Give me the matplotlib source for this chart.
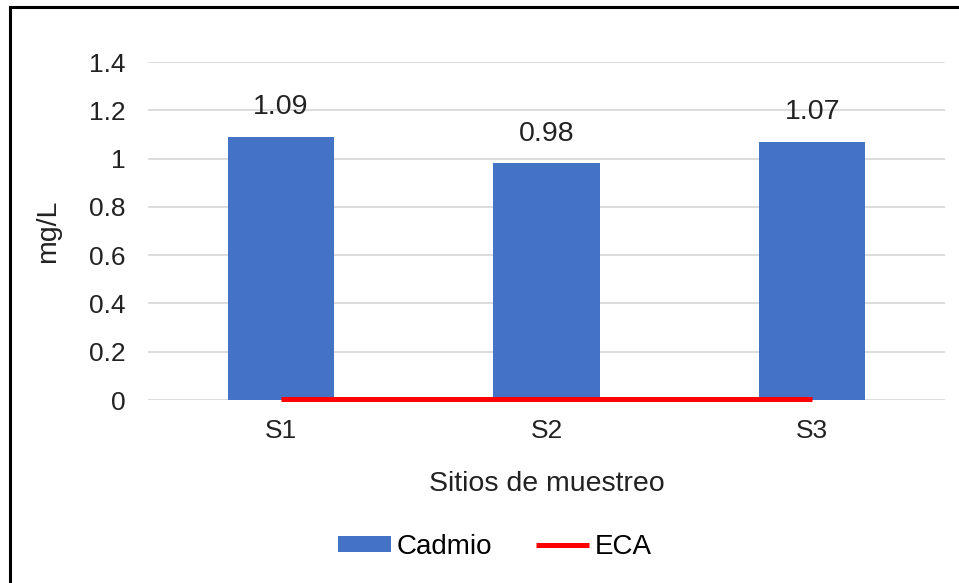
import numpy as np
import matplotlib.pyplot as plt
from matplotlib.lines import Line2D

# concentracion de cadmio por sitio de muestreo
sitios = ["S1", "S2", "S3"]
cadmio = [1.09, 0.98, 1.07]
eca = [0.005, 0.005, 0.005]
yticks = [0, 0.2, 0.4, 0.6, 0.8, 1, 1.2, 1.4]

plt.rcParams['font.family'] = ['Liberation Sans', 'DejaVu Sans']
FS = 19
FS_LAB = 20.5

W, H = 959, 583
fig = plt.figure(figsize=(W / 100, H / 100), dpi=100)
ax = fig.add_axes([148 / W, 1 - 400 / H, (945 - 148) / W, (400 - 62) / H])

x = np.arange(len(sitios))
bars = ax.bar(x, cadmio, width=0.4, color='#4472c4', label='Cadmio', zorder=2)
linea, = ax.plot(x, eca, color='#ff0000', lw=3.6, label='ECA', zorder=3,
                 solid_capstyle='butt', clip_on=False)

for b, v in zip(bars, cadmio):
    ax.annotate(f'{v:.2f}', (b.get_x() + b.get_width() / 2, v),
                xytext=(0, 12), textcoords='offset points',
                ha='center', va='bottom', fontsize=FS_LAB, color='#222222')

ax.set_xlim(-0.5, 2.5)
ax.set_ylim(0, 1.4)
ax.set_yticks(yticks)
ax.set_yticklabels([f'{t:g}' for t in yticks])
ax.set_xticks(x)
ax.set_xticklabels(sitios)
ax.tick_params(axis='both', length=0, labelsize=FS, colors='#222222')
ax.tick_params(axis='y', pad=16)
ax.tick_params(axis='x', pad=14)
ax.grid(axis='y', color='#d9d9d9', lw=1.3, zorder=0)
for s in ax.spines.values():
    s.set_visible(False)

ax.set_xlabel('Sitios de muestreo', fontsize=FS_LAB, color='#222222', labelpad=20)
ax.set_ylabel('mg/L', fontsize=FS_LAB, color='#222222', labelpad=20)

fig.legend([bars, linea], ['Cadmio', 'ECA'], loc='center',
           bbox_to_anchor=(495 / W, 1 - 547 / H), ncol=2,
           frameon=False, fontsize=20, handlelength=1.9, handleheight=0.5,
           handletextpad=0.2, columnspacing=1.6)

# marco negro izquierdo y superior
fig.add_artist(Line2D([10 / W, 10 / W], [0, 1 - 7 / H], color='black', lw=2.2))
fig.add_artist(Line2D([10 / W, 1], [1 - 7 / H, 1 - 7 / H], color='black', lw=2.2))

fig.savefig('out.png', dpi=100)
